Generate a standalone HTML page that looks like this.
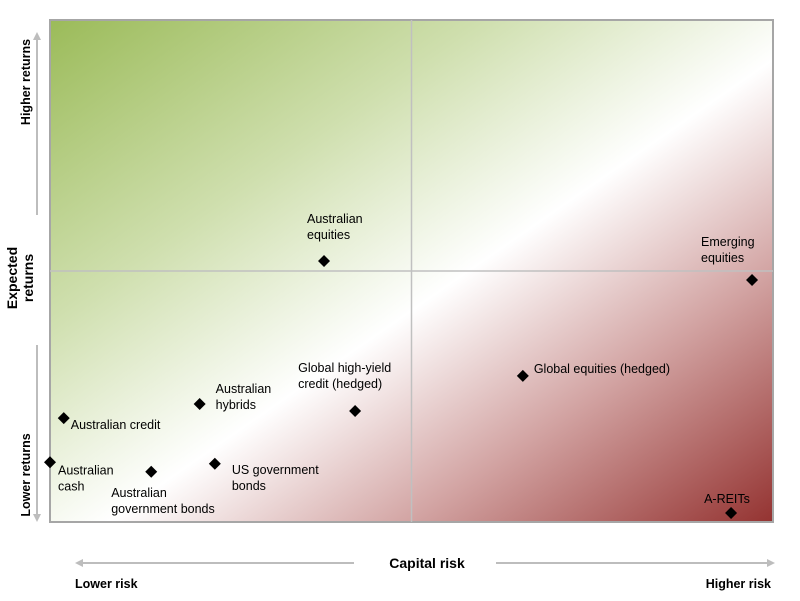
<!DOCTYPE html>
<html><head><meta charset="utf-8"><style>
body{margin:0;background:#fff;}
svg text{font-family:"Liberation Sans",Arial,sans-serif;}
</style></head><body>
<svg width="800" height="596" viewBox="0 0 800 596">
<defs>
<linearGradient id="bg" x1="0" y1="0" x2="1" y2="1">
<stop offset="0" stop-color="#9bbb59"/>
<stop offset="0.3" stop-color="#cfdfae"/>
<stop offset="0.54" stop-color="#ffffff"/>
<stop offset="0.75" stop-color="#d2a3a2"/>
<stop offset="1" stop-color="#943331"/>
</linearGradient>
<marker id="ah" markerWidth="8" markerHeight="8" refX="6" refY="4" orient="auto" markerUnits="userSpaceOnUse">
<path d="M0,0 L8,4 L0,8 z" fill="#bdbdbd"/>
</marker>
</defs>
<rect x="50" y="20" width="723" height="502" fill="url(#bg)" stroke="#a6a6a6" stroke-width="2"/>
<g id="grid"></g>
<g id="marks"></g>

<text x="0" y="0" transform="translate(19,278) rotate(-90)" text-anchor="middle" font-size="14" font-weight="bold"><tspan x="0" dy="-2">Expected</tspan><tspan x="0" dy="16">returns</tspan></text>
<text transform="translate(30,82) rotate(-90)" text-anchor="middle" font-size="12.5" font-weight="bold">Higher returns</text>
<text transform="translate(30,475) rotate(-90)" text-anchor="middle" font-size="12.5" font-weight="bold">Lower  returns</text>
<line x1="37" y1="215" x2="37" y2="34" stroke="#bdbdbd" stroke-width="2" marker-end="url(#ah)"/>
<line x1="37" y1="345" x2="37" y2="520" stroke="#bdbdbd" stroke-width="2" marker-end="url(#ah)"/>

<text x="427" y="568" text-anchor="middle" font-size="14" font-weight="bold">Capital risk</text>
<line x1="354" y1="563" x2="77" y2="563" stroke="#bdbdbd" stroke-width="2" marker-end="url(#ah)"/>
<line x1="496" y1="563" x2="773" y2="563" stroke="#bdbdbd" stroke-width="2" marker-end="url(#ah)"/>
<text x="75" y="588" font-size="12.5" font-weight="bold">Lower risk</text>
<text x="771" y="588" text-anchor="end" font-size="12.5" font-weight="bold">Higher risk</text>
</svg>
<script>
const names = ["Australian equities","Emerging equities","Global equities (hedged)","Global high-yield credit (hedged)","Australian hybrids","Australian credit","Australian cash","Australian government bonds","US government bonds","A-REITs"];
const riskValues = [37.9, 97.1, 65.4, 42.2, 20.7, 1.9, 0, 14.0, 22.8, 94.2];
const returnValues = [52.0, 48.2, 29.1, 22.1, 23.5, 20.7, 11.9, 10.0, 11.6, 1.8];
const labelLines = [["Australian","equities"],["Emerging","equities"],["Global equities (hedged)"],["Global high-yield","credit (hedged)"],["Australian","hybrids"],["Australian credit"],["Australian","cash"],["Australian","government bonds"],["US government","bonds"],["A-REITs"]];
const labelDx = [-17,-51,11,-57,16,7,8,-40,17,-27];
const labelDy = [-38,-34,-3,-39,-11,11,12,25,10,-10];
const labelAnchor = ["start","start","start","start","start","start","start","start","start","start"];

const X0=50,X1=773,Y0=522,Y1=20;
function xs(v){return X0+(v/100)*(X1-X0);}
function ys(v){return Y0-(v/100)*(Y0-Y1);}
const NS="http://www.w3.org/2000/svg";
const grid=document.getElementById('grid');
const vl=document.createElementNS(NS,'line');
vl.setAttribute('x1',xs(50));vl.setAttribute('x2',xs(50));vl.setAttribute('y1',Y1);vl.setAttribute('y2',Y0);
vl.setAttribute('stroke','#c0c0c0');vl.setAttribute('stroke-width','1.5');


grid.appendChild(vl);
const hl=document.createElementNS(NS,'line');
hl.setAttribute('x1',X0);hl.setAttribute('x2',X1);hl.setAttribute('y1',ys(50));hl.setAttribute('y2',ys(50));
hl.setAttribute('stroke','#c0c0c0');hl.setAttribute('stroke-width','1.5');


grid.appendChild(hl);

const marks=document.getElementById('marks');
for(let i=0;i<names.length;i++){
  const cx=xs(riskValues[i]), cy=ys(returnValues[i]);
  const p=document.createElementNS(NS,'path');
  p.setAttribute('d',`M${cx},${cy-6} L${cx+6},${cy} L${cx},${cy+6} L${cx-6},${cy} Z`);
  p.setAttribute('fill','#000');
  
  
  marks.appendChild(p);
  const t=document.createElementNS(NS,'text');
  t.setAttribute('font-size','12.5');
  t.setAttribute('fill','#000');
  t.setAttribute('text-anchor',labelAnchor[i]);
  
  
  labelLines[i].forEach((ln,j)=>{
    const s=document.createElementNS(NS,'tspan');
    s.setAttribute('x',cx+labelDx[i]);
    s.setAttribute('y',cy+labelDy[i]+j*16);
    s.textContent=ln;
    t.appendChild(s);
  });
  marks.appendChild(t);
}
</script>
</body></html>
